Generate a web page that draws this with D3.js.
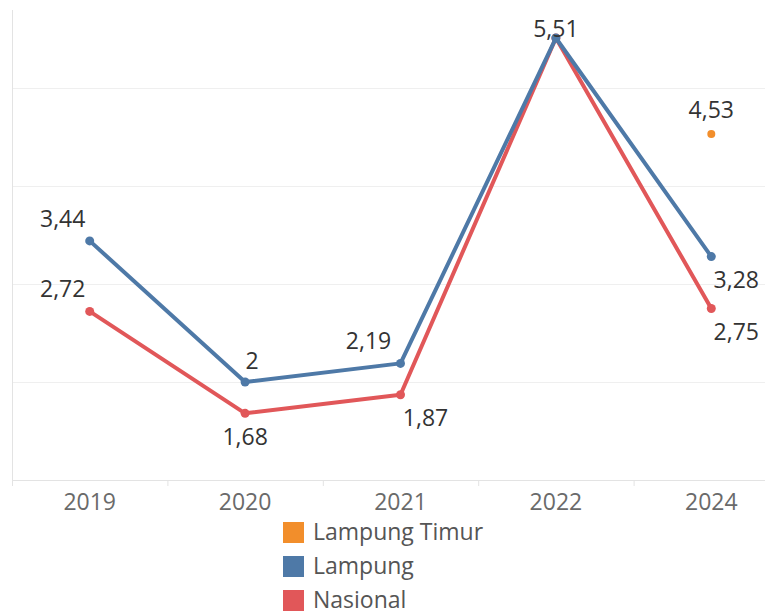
<!DOCTYPE html>
<html>
<head>
<meta charset="utf-8">
<script src="https://cdn.jsdelivr.net/npm/d3@7"></script>
<style>
  body { margin: 0; background: #fff; }
  text { font-family: "Open Sans", sans-serif; }
</style>
</head>
<body>
<div id="chart-area"></div>
<script>
// Data
var years = ["2019", "2020", "2021", "2022", "2024"];
var lampung = [3.44, 2.00, 2.19, 5.51, 3.28];
var nasional = [2.72, 1.68, 1.87, 5.51, 2.75];
var lampungTimurYears = ["2024"];
var lampungTimur = [4.53];
var gridValues = [2, 3, 4, 5];
var legendNames = ["Lampung Timur", "Lampung", "Nasional"];

// label placement per point (null = hidden)
var lampungPos = ["nw", "ne", "nww", "top", "se"];
var nasionalPos = ["nw", "s", "se", null, "se"];
var lampungTimurPos = ["n"];

var width = 765, height = 614;
var colors = { "Lampung Timur": "#f28e2b", "Lampung": "#4e79a7", "Nasional": "#e15759" };

var svg = d3.select("#chart-area")
    .append("svg")
    .attr("width", width)
    .attr("height", height);

// Scales
var x = d3.scaleBand().domain(years).range([12, 789]).padding(0);
var y = d3.scaleLinear().domain([1, 6]).range([480, -10]);
var cx = function(d) { return x(d) + x.bandwidth() / 2; };

// Gridlines
svg.append("g")
    .attr("class", "grid")
    .attr("transform", "translate(12,0)")
    .call(d3.axisLeft(y).tickValues(gridValues).tickSize(-(width - 12)).tickFormat(""))
    .call(function(g) {
        g.select(".domain").remove();
        g.selectAll("line").attr("stroke", "#efefef").attr("stroke-width", 1);
    });

// Left axis line
svg.append("line")
    .attr("x1", 12.5).attr("x2", 12.5)
    .attr("y1", 10).attr("y2", 486)
    .attr("stroke", "#e3e3e3");

// X axis
var xAxis = svg.append("g")
    .attr("transform", "translate(0," + y(1) + ")")
    .call(d3.axisBottom(x).tickSize(0).tickPadding(14));
xAxis.select(".domain").attr("stroke", "#e3e3e3").attr("d", "M12,0.5H" + width);
xAxis.selectAll("text")
    .attr("font-size", "23px")
    .attr("fill", "#6a6a6a");

// band separators
svg.append("g").selectAll("line")
    .data(years.slice(1))
    .enter().append("line")
    .attr("x1", function(d) { return x(d) + 0.5; })
    .attr("x2", function(d) { return x(d) + 0.5; })
    .attr("y1", y(1)).attr("y2", y(1) + 6)
    .attr("stroke", "#e3e3e3");

var line = d3.line()
    .x(function(d) { return cx(d.year); })
    .y(function(d) { return y(d.value); });

function toPoints(ys, vals, pos) {
    return ys.map(function(yr, i) { return { year: yr, value: vals[i], pos: pos[i] }; });
}

var series = [
    { name: "Nasional", points: toPoints(years, nasional, nasionalPos), drawLine: true },
    { name: "Lampung", points: toPoints(years, lampung, lampungPos), drawLine: true },
    { name: "Lampung Timur", points: toPoints(lampungTimurYears, lampungTimur, lampungTimurPos), drawLine: false }
];

var offsets = {
    top: [0, -1],
    n:   [0, -16],
    nw:  [-27, -14],
    nww: [-32, -14],
    ne:  [7, -13],
    s:   [0, 32],
    se:  [25, 31]
};
var fmt = function(v) { return d3.format(".3~g")(v).replace(".", ","); };

series.forEach(function(s) {
    var c = colors[s.name];
    if (s.drawLine) {
        svg.append("path")
            .attr("fill", "none")
            .attr("stroke", c)
            .attr("stroke-width", 4)
            .attr("stroke-linejoin", "round")
            .attr("d", line(s.points));
    }
    svg.append("g").selectAll("circle")
        .data(s.points)
        .enter().append("circle")
        .attr("cx", function(d) { return cx(d.year); })
        .attr("cy", function(d) { return y(d.value); })
        .attr("r", s.drawLine ? 4.5 : 4)
        .attr("fill", c);
});

// Labels on top
series.forEach(function(s) {
    svg.append("g").selectAll("text")
        .data(s.points.filter(function(d) { return d.pos; }))
        .enter().append("text")
        .attr("x", function(d) { return cx(d.year) + offsets[d.pos][0]; })
        .attr("y", function(d) { return y(d.value) + offsets[d.pos][1]; })
        .attr("text-anchor", "middle")
        .attr("font-size", "23px")
        .attr("fill", "#333")
        .text(function(d) { return fmt(d.value); });
});

// Legend
var legend = svg.append("g").selectAll("g")
    .data(legendNames)
    .enter().append("g")
    .attr("transform", function(d, i) { return "translate(283," + (522 + i * 34) + ")"; });
legend.append("rect")
    .attr("width", 21).attr("height", 21)
    .attr("fill", function(d) { return colors[d]; });
legend.append("text")
    .attr("x", 30).attr("y", 18)
    .attr("font-size", "23px")
    .attr("fill", "#555")
    .text(function(d) { return d; });
</script>
</body>
</html>
